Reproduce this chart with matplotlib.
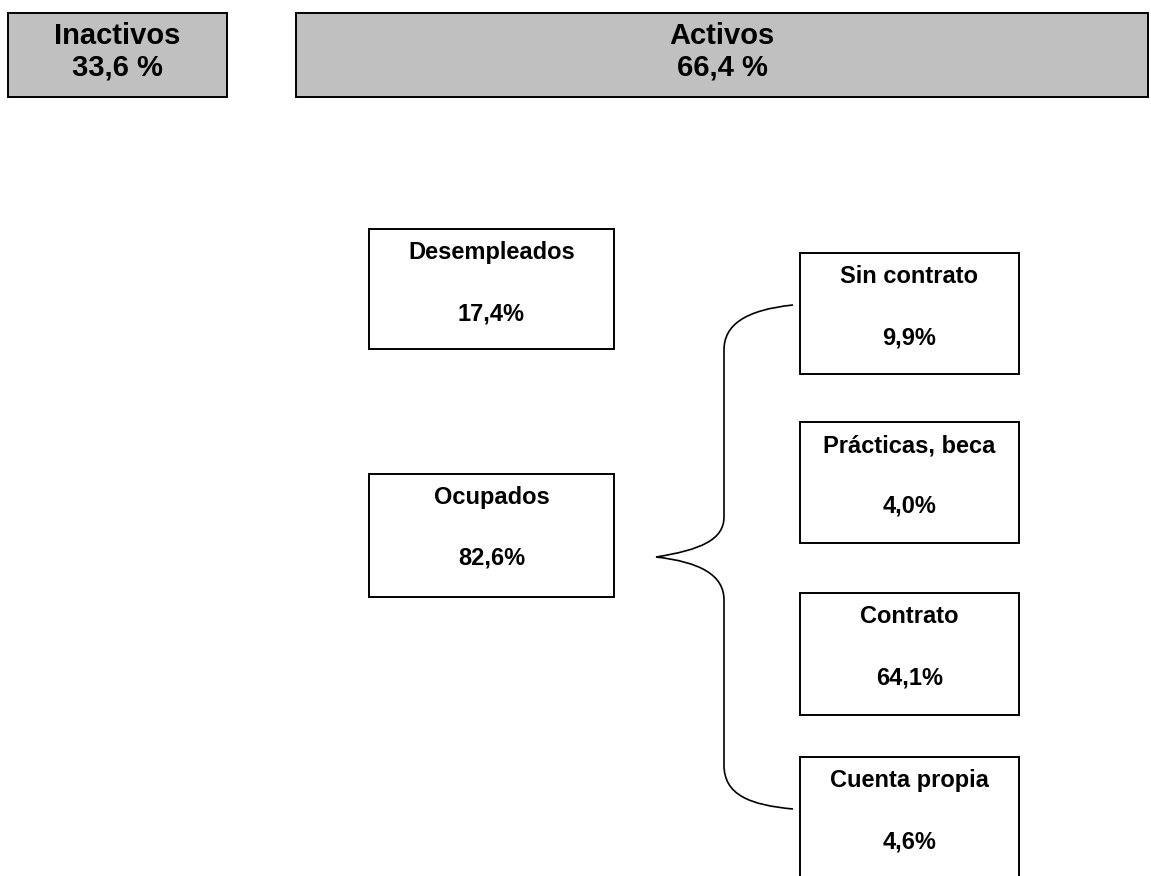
import matplotlib
matplotlib.use("Agg")
import matplotlib.pyplot as plt
from matplotlib.patches import Rectangle, PathPatch
from matplotlib.path import Path

plt.rcParams['font.family'] = ['Liberation Sans', 'DejaVu Sans']

# datos
top_labels = ["Inactivos", "Activos"]
top_values = ["33,6 %", "66,4 %"]
left_labels = ["Desempleados", "Ocupados"]
left_values = ["17,4%", "82,6%"]
right_labels = ["Sin contrato", "Prácticas, beca", "Contrato", "Cuenta propia"]
right_values = ["9,9%", "4,0%", "64,1%", "4,6%"]

# disposición en píxeles (x, y, ancho, alto)
top_boxes = [(8, 13, 219, 84), (296, 13, 852, 84)]
left_boxes = [(369, 229, 245, 120), (369, 474, 245, 123)]
right_boxes = [(800, 253, 219, 121), (800, 422, 219, 121),
               (800, 593, 219, 122), (800, 757, 219, 130)]

fig = plt.figure(figsize=(11.51, 8.76), dpi=100)
ax = fig.add_axes([0, 0, 1, 1])
ax.set_xlim(0, 1151)
ax.set_ylim(876, 0)
ax.axis('off')

# cajas superiores (la línea base indicada es la de la última línea)
for (x, y, w, h), lab, val in zip(top_boxes, top_labels, top_values):
    ax.add_patch(Rectangle((x, y), w, h, facecolor='#c0c0c0', edgecolor='black', lw=1.4))
    ax.text(x + w / 2, y + 63, lab + "\n" + val, ha='center', va='baseline',
            multialignment='center', linespacing=1.17, fontsize=21, fontweight='bold')

# cajas de la izquierda y derecha
for boxes, labels, values in [(left_boxes, left_labels, left_values),
                              (right_boxes, right_labels, right_values)]:
    for (x, y, w, h), lab, val in zip(boxes, labels, values):
        ax.add_patch(Rectangle((x, y), w, h, facecolor='white', edgecolor='black',
                               lw=1.4, clip_on=False))
        ax.text(x + w / 2, y + 30, lab, ha='center', va='baseline', fontsize=17, fontweight='bold')
        ax.text(x + w / 2, y + 91, val, ha='center', va='baseline', fontsize=17, fontweight='bold')

# llave que une "Ocupados" con los tipos de ocupación
verts = [(793, 305), (745, 310), (724, 325), (724, 350),
         (724, 517),
         (724, 540), (700, 550), (656, 557),
         (700, 562), (724, 575), (724, 600),
         (724, 765),
         (724, 795), (750, 805), (793, 809)]
codes = [Path.MOVETO, Path.CURVE4, Path.CURVE4, Path.CURVE4,
         Path.LINETO,
         Path.CURVE4, Path.CURVE4, Path.CURVE4,
         Path.CURVE4, Path.CURVE4, Path.CURVE4,
         Path.LINETO,
         Path.CURVE4, Path.CURVE4, Path.CURVE4]
ax.add_patch(PathPatch(Path(verts, codes), facecolor='none', edgecolor='black', lw=1.2))

fig.savefig("out.png", dpi=100)
